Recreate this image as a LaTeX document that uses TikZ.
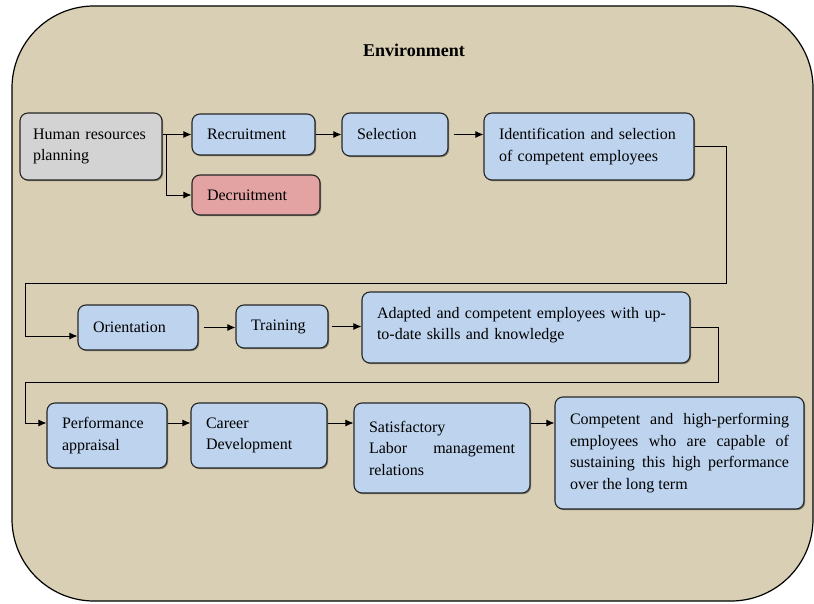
\documentclass[tikz,border=0pt]{standalone}
\usepackage{fontspec}
\setmainfont{Liberation Serif}
\usetikzlibrary{arrows.meta,calc,shadows}
\definecolor{envbg}{HTML}{D8CFB4}
\definecolor{boxblue}{HTML}{BDD3EE}
\definecolor{hrgray}{HTML}{D3D3D3}
\definecolor{decpink}{HTML}{E3A3A3}
\begin{document}
\begin{tikzpicture}[x=1pt,y=-1pt,
  bx/.style={draw=black!85,line width=1.1pt,rounded corners=8pt,inner xsep=15pt,inner ysep=0pt,
    align=left,font=\fontsize{16}{21.5}\selectfont,fill=boxblue,
    drop shadow={shadow xshift=1.2pt,shadow yshift=-1.2pt,fill=black,opacity=0.4}},
  arr/.style={-{Latex[length=8pt,width=7pt]},line width=0.9pt}]
\useasboundingbox (0,0) rectangle (814,604);
\draw[fill=envbg,line width=1.2pt,rounded corners=82pt] (12,6) rectangle (813,601);
\node[font=\fontsize{18}{20}\selectfont\bfseries] (env) at (414,50) {Environment};

\node[bx,fill=hrgray,inner xsep=13pt,text width=116pt,minimum height=67pt] (hrp) at (91,146.5) {\mbox{Human resources}\\planning};
\node[bx,text width=93pt,minimum height=41pt] (rec) at (253.5,134.5) {Recruitment};
\node[bx,fill=decpink,text width=98pt,minimum height=40pt] (dec) at (256,195) {Decruitment};
\node[bx,text width=76pt,minimum height=43pt] (sel) at (395,134.5) {Selection};
\node[bx,text width=180pt,minimum height=67pt] (idf) at (589,146.5) {Identification and selection\\of competent employees};
\node[bx,text width=90pt,minimum height=45pt] (ori) at (138,327.5) {Orientation};
\node[bx,text width=62pt,minimum height=43pt] (tra) at (282,326.5) {Training};
\node[bx,text width=298pt,minimum height=71pt] (ada) at (526,327.5) {Adapted and competent employees with up-\\to-date skills and knowledge\rule[-8pt]{0pt}{0pt}};
\node[bx,text width=90pt,minimum height=65pt] (per) at (107,435.5) {Performance\\appraisal};
\node[bx,text width=106pt,minimum height=65pt] (car) at (259,435.5) {Career\\Development};
\node[bx,text width=146pt,minimum height=90pt] (sat) at (442,448) {Satisfactory\\Labor\hfill management\\relations};
\node[bx,text width=219pt,minimum height=112pt,align=justify] (com) at (679.5,453) {Competent and high-performing\linebreak employees who are capable of\linebreak sustaining this high performance\linebreak over the long term};

\coordinate (j0) at (hrp.east |- rec.west);
\coordinate (j1) at ($(j0)+(4,0)$);
\draw[arr] (j0) -- (rec.west);
\draw[arr] (j1) |- (dec.west);
\draw[arr] (rec.east) -- (sel.west);
\draw[arr] ($(sel.east)+(5,0)$) -- (idf.west |- sel.east);

\coordinate (t1) at (726,283);
\coordinate (t2) at (25,336);
\draw[arr] (idf.east) -| (t1) -| (t2) -- (ori.west |- t2);
\draw[arr] ($(ori.east)+(5,0)$) -- (tra.west |- ori.east);
\draw[arr] ($(tra.east)+(3,0)$) -- (ada.west |- tra.east);

\coordinate (t3) at (718,382);
\coordinate (t4) at (25,423);
\draw[arr] (ada.east) -| (t3) -| (t4) -- (per.west |- t4);
\draw[arr] (per.east |- t4) -- (car.west |- t4);
\draw[arr] (car.east |- t4) -- (sat.west |- t4);
\draw[arr] (sat.east |- t4) -- (com.west |- t4);
\end{tikzpicture}
\end{document}
